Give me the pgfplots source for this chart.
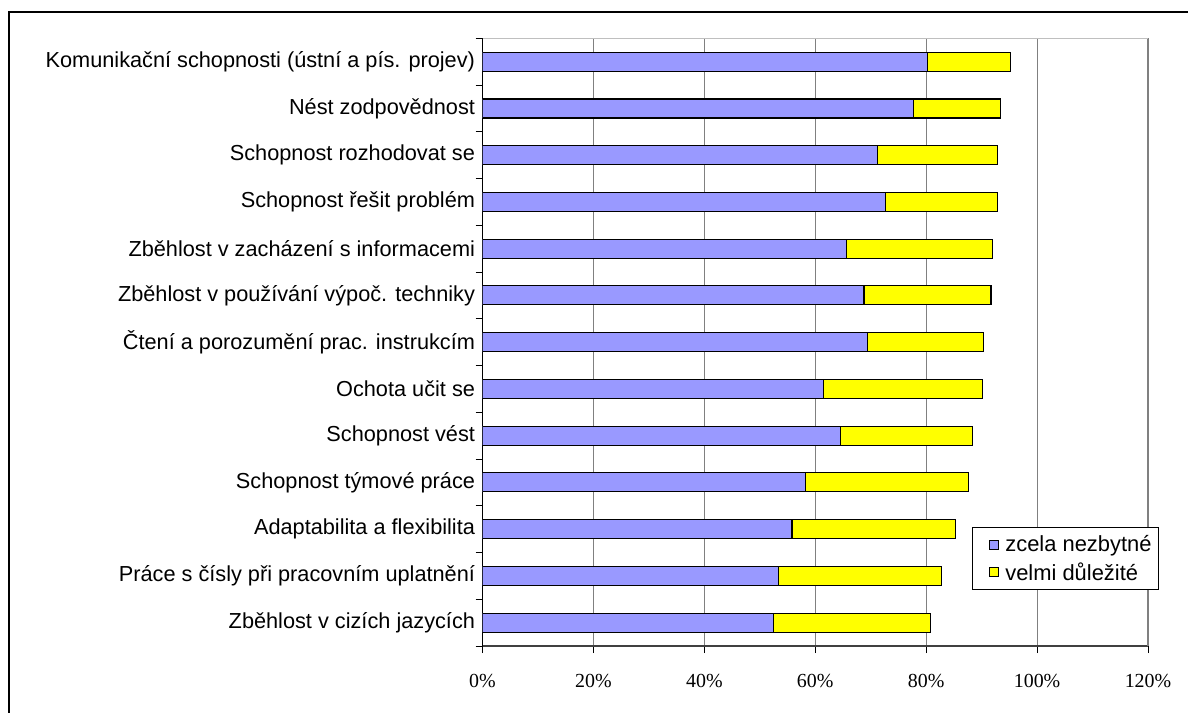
\documentclass[border=0pt]{standalone}
\usepackage{fontspec}
\setmainfont{Liberation Sans}
\newfontfamily\timesf{Liberation Serif}
\usepackage{pgfplots}
\pgfplotsset{compat=1.18}
\definecolor{cblue}{HTML}{9999FF}
\definecolor{cyel}{HTML}{FFFF00}
\begin{document}
\begin{tikzpicture}
\useasboundingbox (0,0) rectangle (1188bp,713bp);
\fill[white] (0,0) rectangle (1188bp,713bp);
\draw[black, line width=1.5bp] (9bp,-10bp) -- (9bp,701bp) -- (1200bp,701bp);
\begin{axis}[
 at={(482.5bp,67bp)}, anchor=south west,
 width=665.5bp, height=607.7bp, scale only axis,
 xbar stacked, bar width=19bp,
 xmin=0, xmax=120, ymin=-0.5, ymax=12.5,
 xtick={0,20,...,120},
 xticklabels={0\%,20\%,40\%,60\%,80\%,100\%,120\%},
 xticklabel style={font=\timesf\fontsize{20}{24}\selectfont, yshift=-18bp},
 ytick={-0.5,0.5,1.5,2.5,3.5,4.5,5.5,6.5,7.5,8.5,9.5,10.5,11.5,12.5},
 y tick label as interval,
 yticklabels={{Zběhlost v cizích jazycích},{Práce s čísly při pracovním uplatnění},{Adaptabilita a flexibilita},{Schopnost týmové práce},{Schopnost vést},{Ochota učit se},{Čtení a porozumění prac. instrukcím},{Zběhlost v používání výpoč. techniky},{Zběhlost v zacházení s informacemi},{Schopnost řešit problém},{Schopnost rozhodovat se},{Nést zodpovědnost},{Komunikační schopnosti (ústní a pís. projev)}},
 yticklabel style={font=\fontsize{21.8}{26}\selectfont, xshift=3bp},
 major tick length=7bp, tick align=outside,
 tick style={black, line width=1bp},
 axis x line*=bottom, axis y line*=left,
 axis line style={-},
 x axis line style={draw=black!75, line width=2bp},
 y axis line style={draw=black, line width=1.5bp},
 xmajorgrids, major grid style={draw=gray, line width=1bp},
 legend style={at={(0.735,0.1953)}, anchor=north west, draw=black, line width=1bp,
   font=\fontsize{22}{26}\selectfont, inner xsep=6bp, inner ysep=6bp, row sep=5bp,
   nodes={inner xsep=1bp, inner ysep=2bp}},
 legend cell align=left,
 legend image code/.code={\draw[#1, line width=1bp] (0bp,-4.5bp) rectangle (9bp,4.5bp); \path (-11bp,0bp) (14bp,0bp);},
]
\addplot[fill=cblue, draw=black, line width=1.2bp] coordinates {
 (52.5,0) (53.4,1) (55.8,2) (58.3,3) (64.6,4) (61.5,5) (69.4,6)
 (68.8,7) (65.7,8) (72.7,9) (71.2,10) (77.7,11) (80.2,12)};
\addplot[fill=cyel, draw=black, line width=1.2bp] coordinates {
 (28.3,0) (29.3,1) (29.5,2) (29.4,3) (23.7,4) (28.6,5) (21.0,6)
 (22.9,7) (26.2,8) (20.1,9) (21.6,10) (15.7,11) (15.0,12)};
\legend{zcela nezbytné, velmi důležité}
\draw[gray!50, line width=1bp] (rel axis cs:0,1) -- (rel axis cs:1,1);
\draw[gray, line width=2bp] (rel axis cs:1,0) -- (rel axis cs:1,1);
\end{axis}
\end{tikzpicture}
\end{document}
